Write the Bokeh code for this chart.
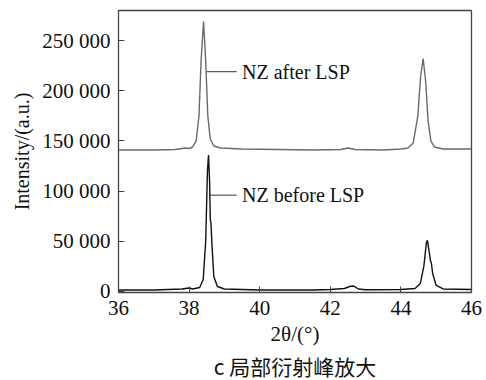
from bokeh.plotting import figure
from bokeh.models import FixedTicker, Range1d, Title
from bokeh.core.properties import value
from bokeh.embed import file_html
from bokeh.resources import INLINE

# NZ after LSP (2theta, intensity)
after_x = [36.0, 37.0, 37.6, 37.8, 37.9, 38.0, 38.1, 38.2, 38.28, 38.34, 38.41, 38.47, 38.53, 38.6, 38.7,
           38.9, 39.5, 40.5, 41.5, 42.3, 42.5, 42.7, 43.5, 44.0, 44.2, 44.35, 44.48, 44.56, 44.63, 44.7,
           44.77, 44.85, 44.95, 45.2, 46.0]
after_y = [141000, 141000, 141500, 142500, 143000, 142500, 144000, 150000, 175000, 230000, 269000, 230000,
           175000, 152000, 145000, 143000, 142000, 141500, 141000, 141500, 143000, 141500, 141000, 142000,
           143000, 148000, 175000, 215000, 232000, 210000, 170000, 150000, 144000, 142000, 142000]

# NZ before LSP
before_x = [36.0, 37.0, 37.8, 38.0, 38.1, 38.3, 38.4, 38.47, 38.52, 38.55, 38.58, 38.6, 38.62, 38.65, 38.7,
            38.8, 39.0, 40.0, 41.5, 42.0, 42.4, 42.55, 42.65, 42.8, 43.0, 44.0, 44.4, 44.55, 44.65, 44.72,
            44.75, 44.8, 44.84, 44.86, 44.9, 45.0, 45.2, 46.0]
before_y = [1500, 1500, 2500, 3500, 2500, 4000, 12000, 50000, 120000, 136000, 110000, 72000, 68000, 45000,
            15000, 5000, 2500, 1500, 1500, 2000, 3000, 5000, 5500, 2500, 1800, 2000, 3000, 8000, 25000,
            48000, 51000, 40000, 30000, 29000, 18000, 6000, 2500, 2000]

y_ticks = [0, 50000, 100000, 150000, 200000, 250000]
y_tick_labels = ["0", "50 000", "100 000", "150 000", "200 000", "250 000"]
x_ticks = [36, 38, 40, 42, 44, 46]

labels = ["NZ after LSP", "NZ before LSP"]
label_x = [39.5, 39.5]
label_y = [219000, 96000]
leader_x0 = [38.5, 38.58]
leader_x1 = [39.35, 39.35]

x_title = "2θ/(°)"
y_title = "Intensity/(a.u.)"
caption = "c 局部衍射峰放大"

SERIF = "Liberation Serif"

p = figure(width=486, height=380, output_backend="svg", toolbar_location=None,
           x_range=Range1d(36, 46), y_range=Range1d(-1000, 280000),
           min_border_left=118, min_border_right=15, min_border_top=10, min_border_bottom=0)
p.background_fill_color = "white"
p.border_fill_color = "white"
p.grid.visible = False
p.outline_line_color = "#444444"
p.outline_line_width = 1.3

p.line(after_x, after_y, line_color="#6a6a6a", line_width=1.4)
p.line(before_x, before_y, line_color="#111111", line_width=1.4)

p.segment(x0=leader_x0, y0=label_y, x1=leader_x1, y1=label_y, line_color="#333333", line_width=1)
p.text(x=label_x, y=label_y, text=labels, text_font=value(SERIF), text_font_size="20px",
       text_baseline="middle", text_align="left", text_color="#111111")

p.xaxis.ticker = FixedTicker(ticks=x_ticks)
p.yaxis.ticker = FixedTicker(ticks=y_ticks)
p.yaxis.major_label_overrides = {t: l for t, l in zip(y_ticks, y_tick_labels)}
for ax in (p.xaxis, p.yaxis):
    ax.major_tick_in = 6
    ax.major_tick_out = 0
    ax.minor_tick_in = 0
    ax.minor_tick_out = 0
    ax.axis_line_color = "#444444"
    ax.major_tick_line_color = "#444444"
    ax.major_label_text_font = SERIF
    ax.major_label_text_font_size = "21px"
    ax.major_label_text_color = "#111111"
    ax.major_label_standoff = 8
    ax.axis_label_text_font = SERIF
    ax.axis_label_text_font_style = "normal"
    ax.axis_label_text_font_size = "20px"
    ax.axis_label_text_color = "#111111"

p.yaxis.axis_label = y_title
p.yaxis.axis_label_standoff = 6
p.xaxis.axis_label = x_title
p.xaxis.axis_label_text_font_size = "21px"
p.xaxis.axis_label_standoff = 4

cap = Title(text=caption, align="center", text_font="Noto Sans CJK SC",
            text_font_size="21px", text_font_style="normal", text_color="#111111",
            standoff=0)
p.add_layout(cap, "below")

open("out.html", "w").write(file_html(p, INLINE))
